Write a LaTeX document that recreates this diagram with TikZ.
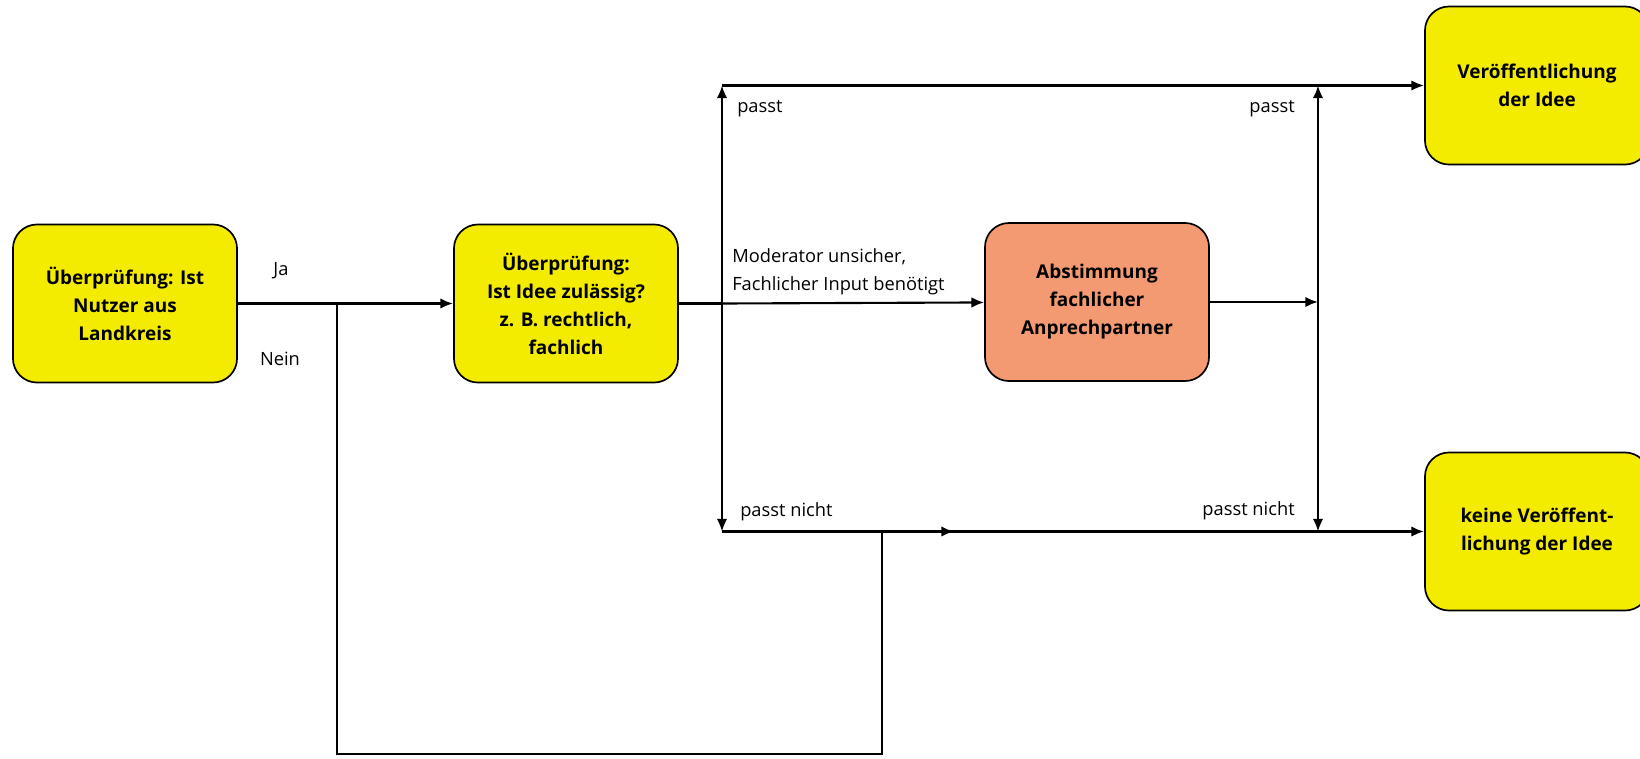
\documentclass[tikz,border=0pt]{standalone}
\usepackage{fontspec}
\setmainfont{Open Sans}
\usepackage{tikz}
\usetikzlibrary{arrows.meta}
\definecolor{boxyellow}{RGB}{243,236,0}
\definecolor{boxorange}{RGB}{244,154,114}

\begin{document}
\begin{tikzpicture}[x=0.025cm, y=-0.025cm,
  box/.style={draw, line width=1.2pt, rounded corners=0.6cm, minimum width=5.6cm, minimum height=3.95cm, align=center, font=\fontsize{13.5}{19.9}\selectfont\bfseries},
  flow/.style={line width=1.5pt},
  mainflow/.style={line width=2.1pt},
  tip/.style={-{Latex[length=9pt,width=7.5pt]}},
  lbl/.style={font=\fontsize{13}{19}\selectfont, inner sep=0pt}]
\useasboundingbox (0,0) rectangle (1640,758);
%%%%% Boxes %%%%%
\node[box, fill=boxyellow] (nutzer) at (125,303.5) {Überprüfung: Ist\\Nutzer aus\\Landkreis};
\node[box, fill=boxyellow] (zulaessig) at (566,303.5) {Überprüfung:\\Ist Idee zulässig?\\z. B. rechtlich,\\fachlich};
\node[box, fill=boxorange] (abstimmung) at (1097,302) {Abstimmung\\fachlicher\\Anprechpartner};
\node[box, fill=boxyellow] (veroeff) at (1537,85.5) {Veröffentlichung\\der Idee};
\node[box, fill=boxyellow] (keine) at (1537,531.5) {keine Veröffent-\\lichung der Idee};
%%%%% Junctions %%%%%
\coordinate (ja) at (337,303.5);
\coordinate (split) at (722,303.5);
\coordinate (splitup) at (722,85.5);
\coordinate (splitdown) at (722,531.5);
\coordinate (merge) at (1318,302);
\coordinate (mergeup) at (1318,85.5);
\coordinate (mergedown) at (1318,531.5);
\coordinate (loopa) at (337,754);
\coordinate (loopb) at (882,754);
\coordinate (loopc) at (882,531.5);
\coordinate (loopd) at (954,531.5);
%%%%% Connectors %%%%%
\draw[mainflow,tip] (nutzer) -- (zulaessig);
\draw[flow] (ja) -- (loopa) -- (loopb) -- (loopc);
\draw[mainflow,tip] (loopc) -- (loopd);
\draw[mainflow] (zulaessig) -- (split);
\draw[flow,tip] (split) -- (splitup);
\draw[flow,tip] (split) -- (splitdown);
\draw[flow,tip] (split) -- (abstimmung);
\draw[mainflow,tip] (abstimmung) -- (merge);
\draw[flow,tip] (merge) -- (mergeup);
\draw[flow,tip] (merge) -- (mergedown);
\draw[mainflow,tip] (splitup) -- (veroeff);
\draw[mainflow,tip] (splitdown) -- (keine);
%%%%% Labels %%%%%
\node[lbl] (lja) at (281,271) {Ja};
\node[lbl] (lnein) at (280,359) {Nein};
\node[lbl, anchor=west] (lpasst) at (737,109) {passt};
\node[lbl, anchor=east] (rpasst) at (1295,109) {passt};
\node[lbl, anchor=west] (lnicht) at (740,512) {passt nicht};
\node[lbl, anchor=east] (rnicht) at (1295,511) {passt nicht};
\node[lbl, anchor=west] (lmod1) at (732,257) {Moderator unsicher,};
\node[lbl, anchor=west] (lmod2) at (732,286) {Fachlicher Input benötigt};
\end{tikzpicture}
\end{document}
